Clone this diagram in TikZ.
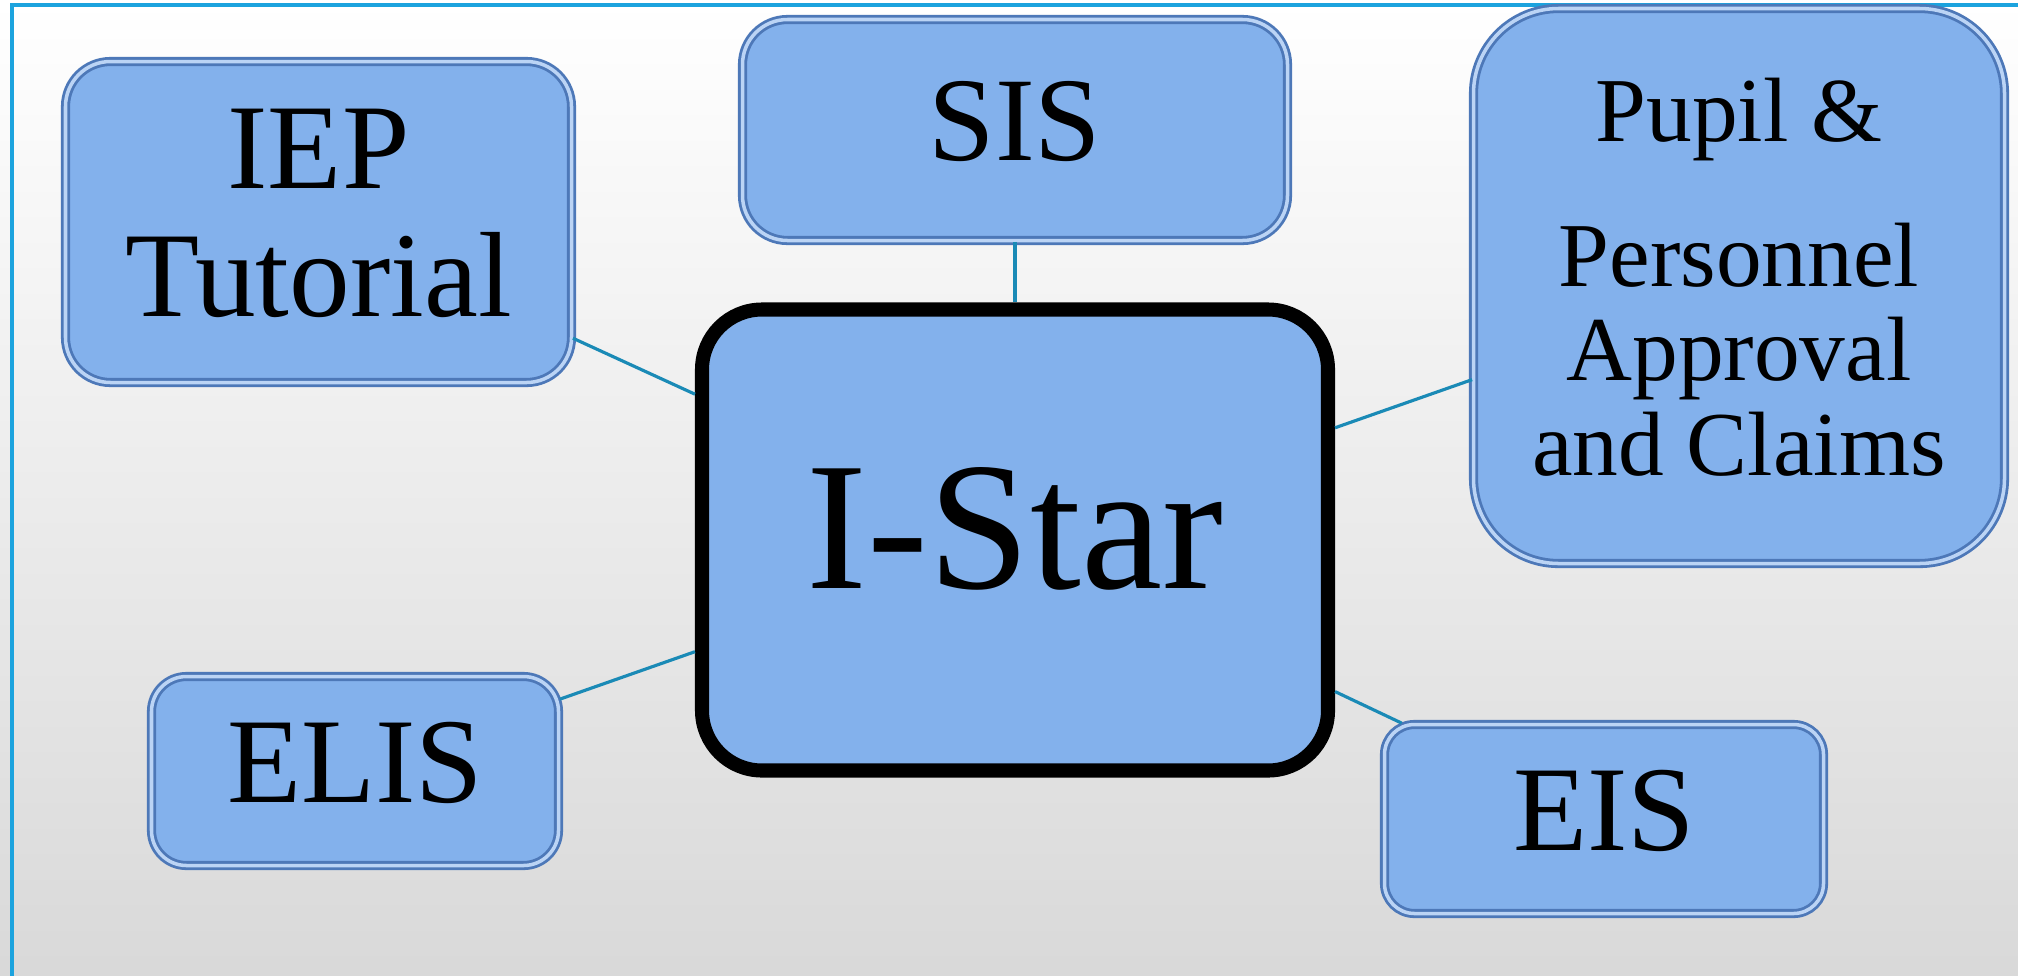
\documentclass[tikz,border=0pt]{standalone}
\usepackage{fontspec}
\setmainfont{Liberation Serif}

\definecolor{boxfill}{HTML}{83B1EC}
\definecolor{boxedge}{HTML}{4D78B8}
\definecolor{linkblue}{HTML}{1A8AB6}
\definecolor{framecyan}{HTML}{1CA3DE}

\begin{document}
\begin{tikzpicture}[
    module/.style={rectangle, rounded corners=0.45cm, fill=boxfill, draw=boxedge, double=boxfill!55!white, double distance=1pt, line width=0.8pt, align=center, inner sep=0pt, text depth=5pt, font=\fontsize{34.5}{36.4}\selectfont},
    hub/.style={rectangle, rounded corners=0.6cm, fill=boxfill, draw=black, line width=4pt, inner sep=0pt, text depth=7pt, font=\fontsize{52}{54}\selectfont},
    link/.style={draw=linkblue, line width=0.9pt}
]
    % Page
    \useasboundingbox (0,0) rectangle (20.18,-9.75);
    \clip (0,0) rectangle (20.18,-9.75);
    \shade[top color=white, bottom color=black!15] (0,0) rectangle (20.18,-9.75);
    \draw[framecyan, line width=1pt] (0.12,-0.05) rectangle (21,-11);

    % Boxes
    \node[hub, minimum width=6.26cm, minimum height=4.61cm] (istar) at (10.15,-5.40) {I-Star};

    \node[module, minimum width=5.06cm, minimum height=3.21cm] (iep) at (3.185,-2.22) {IEP\\Tutorial};

    \node[module, minimum width=5.45cm, minimum height=2.21cm, font=\fontsize{34}{36}\selectfont] (sis) at (10.15,-1.30) {SIS};

    \node[module, rounded corners=0.85cm, minimum width=5.31cm, minimum height=5.55cm, font=\fontsize{26}{27}\selectfont] (pupil) at (17.39,-2.86) {
        Pupil \&\\[14pt]
        Personnel\\
        Approval\\
        and Claims
    };

    \node[module, rounded corners=0.35cm, minimum width=4.07cm, minimum height=1.89cm] (elis) at (3.55,-7.71) {ELIS};

    \node[module, rounded corners=0.3cm, minimum width=4.39cm, minimum height=1.89cm] (eis) at (16.04,-8.19) {EIS};

    % Links
    \draw[link] (iep) -- (istar);
    \draw[link] (sis) -- (istar);
    \draw[link] (pupil) -- (istar);
    \draw[link] (elis) -- (istar);
    \draw[link] (eis) -- (istar);

\end{tikzpicture}
\end{document}
